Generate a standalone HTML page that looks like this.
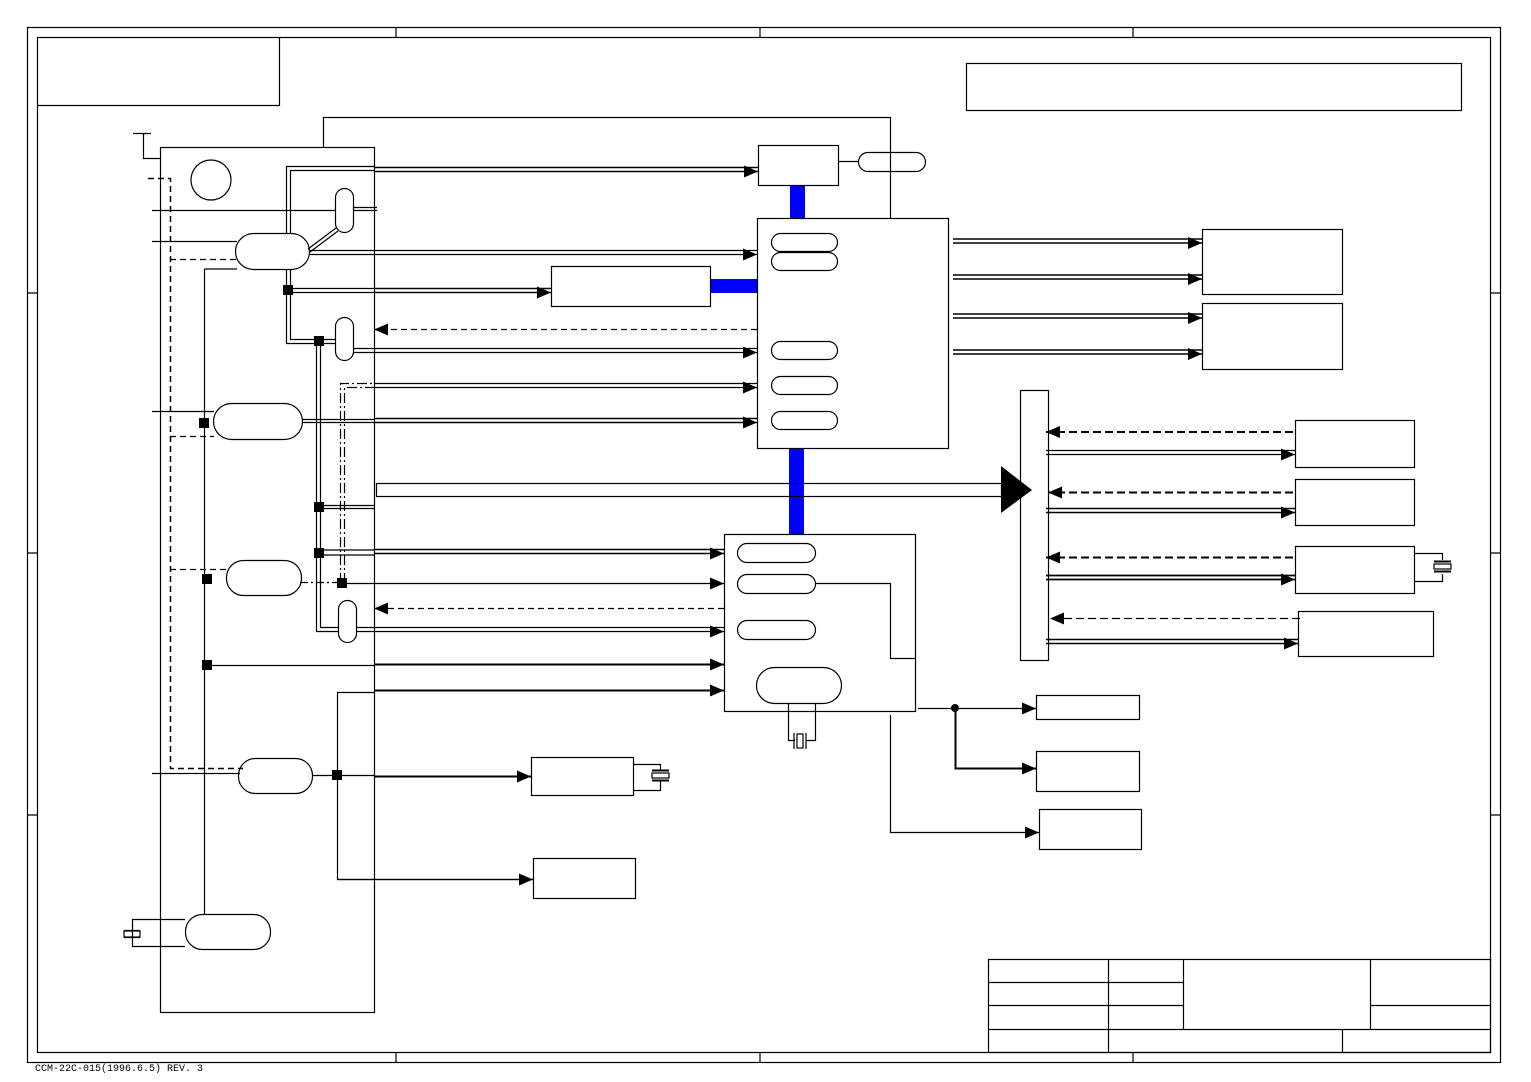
<!DOCTYPE html><html><head><style>body{margin:0;background:#fff}svg{display:block}</style></head><body>
<svg width="1531" height="1082" viewBox="0 0 1531 1082" xmlns="http://www.w3.org/2000/svg" font-family="Liberation Mono, monospace">
<defs>
<marker id="a" markerWidth="14" markerHeight="12" refX="14" refY="6" orient="auto" markerUnits="userSpaceOnUse"><path d="M0,0L14,6L0,12Z" fill="#000"/></marker>
</defs>
<g fill="none" stroke="#000" stroke-width="1.2">
<rect x="27.5" y="27.5" width="1473" height="1035"/>
<rect x="37.5" y="37.5" width="1453" height="1015"/>
<path d="M396,27V37M760,27V37M1133,27V37M396,1052V1062M760,1052V1062M1133,1052V1062M27,293H37M27,553H37M27,815H37M1490,293H1500M1490,553H1500M1490,815H1500"/>
<path d="M37.5,105.5H279.5V37"/>
<rect x="966.5" y="63.5" width="495" height="47"/>
<rect x="988.5" y="959.5" width="502" height="93"/>
<path d="M988,982.5H1183M988,1005.5H1183M1370,1005.5H1490M988,1029.5H1490M1108.5,959V1052M1183.5,959V1029M1370.5,959V1029M1342.5,1029V1052"/>
<!-- left panel -->
<rect x="160.5" y="147.5" width="214" height="865"/>
<path d="M323.5,147V117.5H890.5V218"/>
<path d="M133,133.5H151M143.5,133V158.5H160"/>
<circle cx="211" cy="180" r="20"/>
<path d="M152,210.5H335M152,241.5H237M152,411.5H214M152,773.5H240"/>
<path d="M204.5,269V914M204.5,269H237"/>
<path d="M148,178.5H170.5V768.5H243" stroke-dasharray="6,4" stroke-width="1.5"/>
<path d="M170,259.5H236M170,436.5H214M170,569.5H228" stroke-dasharray="6,4"/>
<path d="M300,582.5H338" stroke-dasharray="8,3,2,3"/>
<!-- pills -->
<rect x="335.5" y="188.5" width="18" height="44" rx="9"/>
<rect x="235.5" y="233.5" width="74" height="36" rx="18"/>
<rect x="335.5" y="317.5" width="18" height="43" rx="9"/>
<rect x="213.5" y="403.5" width="89" height="36" rx="18"/>
<rect x="226.5" y="560.5" width="75" height="35" rx="17"/>
<rect x="338.5" y="600.5" width="18" height="42" rx="9"/>
<rect x="238.5" y="758.5" width="74" height="35" rx="17"/>
<rect x="185.5" y="914.5" width="85" height="35" rx="17"/>
<!-- crystal lower left -->
<path d="M185,919.5H132.5V946.5H185M124,930.5H140M124,937.5H140"/>
<rect x="124" y="931" width="16" height="6"/>
<!-- double vertical routing -->
<path d="M286.5,233V166.5H374M290.5,233V170.5H374"/>
<path d="M286.5,269V343.5H336M290.5,269V339.5H336"/>
<path d="M308,249L336,228M310,252L338,231"/>
<path d="M353,207.5H377M353,210.5H377"/>
<path d="M316.5,341V631.5H339M320.5,341V627.5H339"/>
<path d="M320,505.5H374M320,508.5H374M320,550H374M320,555H374"/>
<path d="M340.5,583V383.5H374M344.5,583V387.5H374" stroke-dasharray="10,3,2,3"/>
<path d="M302,419.5H374M302,422.5H374"/>
<path d="M310,250.5H374M310,254.5H374"/>
<path d="M290,288.5H374M290,292.5H374"/>
<path d="M354,348.5H374M354,352.5H374"/>
<path d="M207,665.5H374"/>
<path d="M337.5,692.5H374.5M337.5,692V879.5H533" />
<path d="M313,775.5H374"/>
</g>
<!-- squares -->
<g fill="#000">
<rect x="283" y="285" width="10" height="10"/><rect x="314" y="336" width="10" height="10"/>
<rect x="199" y="418" width="10" height="10"/><rect x="314" y="502" width="10" height="10"/>
<rect x="314" y="548" width="10" height="10"/><rect x="337" y="578" width="10" height="10"/>
<rect x="202" y="574" width="10" height="10"/><rect x="202" y="660" width="10" height="10"/>
<rect x="332" y="770" width="10" height="10"/>
<circle cx="955" cy="708" r="4"/>
</g>
<!-- blue buses -->
<g fill="#0000ff">
<rect x="790" y="185" width="15" height="33"/>
<rect x="710" y="279" width="47" height="14"/>
<rect x="789" y="448" width="15" height="86"/>
</g>
<g fill="none" stroke="#000" stroke-width="1.2">
<!-- upper boxes -->
<rect x="758.5" y="145.5" width="80" height="40"/>
<path d="M838,161.5H858"/>
<rect x="858.5" y="152.5" width="67" height="19" rx="9.5"/>
<rect x="757.5" y="218.5" width="191" height="230"/>
<rect x="551.5" y="266.5" width="159" height="40"/>
<rect x="771.5" y="233.5" width="66" height="18" rx="9"/>
<rect x="771.5" y="252.5" width="66" height="18" rx="9"/>
<rect x="771.5" y="341.5" width="66" height="18" rx="9"/>
<rect x="771.5" y="376.5" width="66" height="18" rx="9"/>
<rect x="771.5" y="411.5" width="66" height="18" rx="9"/>
<!-- lower box -->
<rect x="724.5" y="534.5" width="191" height="177"/>
<rect x="737.5" y="543.5" width="78" height="19" rx="9.5"/>
<rect x="737.5" y="574.5" width="78" height="19" rx="9.5"/>
<rect x="737.5" y="620.5" width="78" height="19" rx="9.5"/>
<rect x="756.5" y="667.5" width="85" height="36" rx="18"/>
<path d="M815,583.5H890.5V658.5H915"/>
<path d="M788.5,703V740.5H795M815.5,703V740.5H806"/>
<rect x="797" y="734" width="6" height="14"/>
<path d="M794,733V749M806,733V749"/>
<!-- right -->
<rect x="1202.5" y="229.5" width="140" height="65"/>
<rect x="1202.5" y="303.5" width="140" height="66"/>
<rect x="1020.5" y="390.5" width="28" height="270"/>
<rect x="1295.5" y="420.5" width="119" height="47"/>
<rect x="1295.5" y="479.5" width="119" height="46"/>
<rect x="1295.5" y="546.5" width="119" height="47"/>
<rect x="1298.5" y="611.5" width="135" height="45"/>
<path d="M1414,553.5H1442.5V560M1414,581.5H1442.5V574"/>
<rect x="1434" y="564" width="17" height="5"/>
<path d="M1434,561.5H1451M1434,571.5H1451" stroke-width="2"/>
<rect x="376.5" y="483.5" width="625" height="13"/>
<!-- lower right -->
<rect x="1036.5" y="695.5" width="103" height="24"/>
<rect x="1036.5" y="751.5" width="103" height="40"/>
<rect x="1039.5" y="809.5" width="102" height="40"/>
<path d="M918,708.5H1036" marker-end="url(#a)"/>
<path d="M955.5,708V768.5H1036" stroke-width="2" marker-end="url(#a)"/>
<path d="M890.5,715V832.5H1039" marker-end="url(#a)"/>
<!-- bottom center -->
<rect x="531.5" y="757.5" width="102" height="38"/>
<rect x="533.5" y="858.5" width="102" height="40"/>
<path d="M633,764.5H660.5V770M633,790.5H660.5V781"/>
<rect x="652" y="773" width="17" height="5"/>
<path d="M652,770.5H669M652,780.5H669" stroke-width="2"/>
<path d="M374,776.5H531" stroke-width="2" marker-end="url(#a)"/>
<path d="M337,879.5H533" marker-end="url(#a)"/>
</g>
<polygon points="1001,466 1032,490 1001,513" fill="#000"/>
<!-- arrows -->
<g fill="none" stroke="#000">
<!-- doubles to top box -->
<path d="M374,167.5H758M374,171.5H758" stroke-width="1.5" marker-end="url(#a)"/>
<path d="M374,250.5H757M374,254.5H757" stroke-width="1.3" marker-end="url(#a)"/>
<path d="M374,288.5H551M374,292.5H551" stroke-width="1.5" marker-end="url(#a)"/>
<path d="M757,329.5H374" stroke-width="1.3" stroke-dasharray="6,4" marker-end="url(#a)"/>
<path d="M374,348.5H757M374,352.5H757" stroke-width="1.3" marker-end="url(#a)"/>
<path d="M374,383.5H757M374,387.5H757" stroke-width="1.3" marker-end="url(#a)"/>
<path d="M374,418.5H757M374,422.5H757" stroke-width="1.5" marker-end="url(#a)"/>
<path d="M953,239H1202M953,243H1202" stroke-width="1.5" marker-end="url(#a)"/>
<path d="M953,275H1202M953,279H1202" stroke-width="1.5" marker-end="url(#a)"/>
<path d="M953,314H1202M953,318H1202" stroke-width="1.5" marker-end="url(#a)"/>
<path d="M953,350H1202M953,354H1202" stroke-width="1.5" marker-end="url(#a)"/>
<!-- to lower box -->
<path d="M374,549.5H724M374,553.5H724" stroke-width="1.5" marker-end="url(#a)"/>
<path d="M347,583.5H724" stroke-width="1.2" marker-end="url(#a)"/>
<path d="M724,608.5H374" stroke-width="1.2" stroke-dasharray="6,4" marker-end="url(#a)"/>
<path d="M356,627.5H724M356,631.5H724" stroke-width="1.3" marker-end="url(#a)"/>
<path d="M374,664.5H724" stroke-width="2" marker-end="url(#a)"/>
<path d="M374,690.5H724" stroke-width="2" marker-end="url(#a)"/>
<!-- bus side -->
<path d="M1293,432H1046" stroke-width="2" stroke-dasharray="8,4" marker-end="url(#a)"/>
<path d="M1046,450.5H1295M1046,454.5H1295" stroke-width="1.3" marker-end="url(#a)"/>
<path d="M1293,492.5H1048" stroke-width="2" stroke-dasharray="8,4" marker-end="url(#a)"/>
<path d="M1046,508.5H1295M1046,512.5H1295" stroke-width="1.6" marker-end="url(#a)"/>
<path d="M1293,557.5H1046" stroke-width="2" stroke-dasharray="8,4" marker-end="url(#a)"/>
<path d="M1046,575.5H1295M1046,579.5H1295" stroke-width="1.8" marker-end="url(#a)"/>
<path d="M1300,618.5H1050" stroke-width="1.2" stroke-dasharray="8,4" marker-end="url(#a)"/>
<path d="M1046,639.5H1298M1046,643.5H1298" stroke-width="1.6" marker-end="url(#a)"/>
</g>
<text x="35" y="1071" font-size="10" fill="#000">CCM-22C-015(1996.6.5) REV. 3</text>
</svg>
</body></html>
